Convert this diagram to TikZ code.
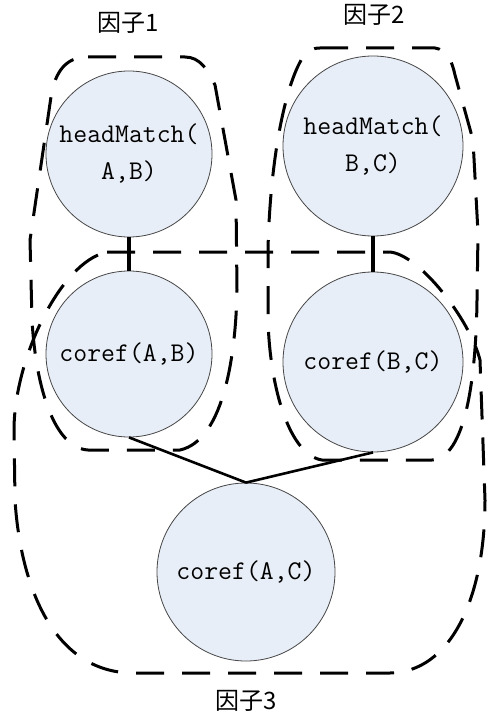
\documentclass[tikz,border=0pt]{standalone}
\usepackage{fontspec}
\newfontfamily\cjk{Noto Sans CJK SC}
\definecolor{circfill}{RGB}{232,238,247}
\definecolor{circline}{RGB}{70,70,70}
\begin{document}
\begin{tikzpicture}[x=1pt,y=-1pt,
  var/.style={circle,draw=circline,line width=0.8pt,fill=circfill,inner sep=0pt,align=center,
    font=\fontsize{27}{37}\selectfont\ttfamily},
  fbox/.style={line width=3pt,dash pattern=on 28pt off 18pt},
  edge/.style={line width=2.6pt},
  vedge/.style={line width=4pt},
  flabel/.style={font=\cjk\fontsize{24}{28}\selectfont}]
\useasboundingbox (0,0) rectangle (490,722);
\node[var,minimum size=166pt] (hab) at (129,154) {headMatch(\\A,B)};
\node[var,minimum size=180pt] (hbc) at (373,146) {headMatch(\\B,C)};
\node[var,minimum size=166pt] (cab) at (129,354) {coref(A,B)};
\node[var,minimum size=180pt] (cbc) at (373,362) {coref(B,C)};
\node[var,minimum size=178pt] (cac) at (246,572) {coref(A,C)};
\draw[vedge] (hab.south) -- (cab.north);
\draw[vedge] (hbc.south) -- (cbc.north);
\draw[edge] (cab.south) -- (cac.north);
\draw[edge] (cbc.south) -- (cac.north);
% factor 1
\draw[fbox] (88,57) -- (185,57) .. controls (200,57) and (208,70) .. (215,85)
  -- (236,200) -- (237,290) .. controls (236,350) and (225,440) .. (180,450)
  -- (88,450) .. controls (55,448) and (36,390) .. (32,320)
  -- (30,240) -- (52,90) .. controls (58,68) and (68,57) .. (88,57) -- cycle;
% factor 2
\draw[fbox] (320,48) -- (435,48) .. controls (448,50) and (452,62) .. (455,75)
  -- (473,140) -- (478,233) -- (477,300) .. controls (476,380) and (465,458) .. (432,460)
  -- (322,460) .. controls (290,455) and (270,390) .. (268,320)
  -- (268,250) .. controls (270,160) and (285,85) .. (303,57) .. controls (307,51) and (312,48) .. (320,48) -- cycle;
% factor 3
\draw[fbox] (107,252) -- (390,252) .. controls (420,255) and (470,320) .. (480,360)
  -- (485,500) .. controls (485,600) and (450,672) .. (390,673)
  -- (130,673) .. controls (50,670) and (20,580) .. (15,500)
  -- (14,430) .. controls (14,360) and (60,262) .. (107,252) -- cycle;
\node[flabel] (l1) at (128,23) {因子1};
\node[flabel] (l2) at (374,15) {因子2};
\node[flabel] (l3) at (246,701) {因子3};
\end{tikzpicture}
\end{document}
